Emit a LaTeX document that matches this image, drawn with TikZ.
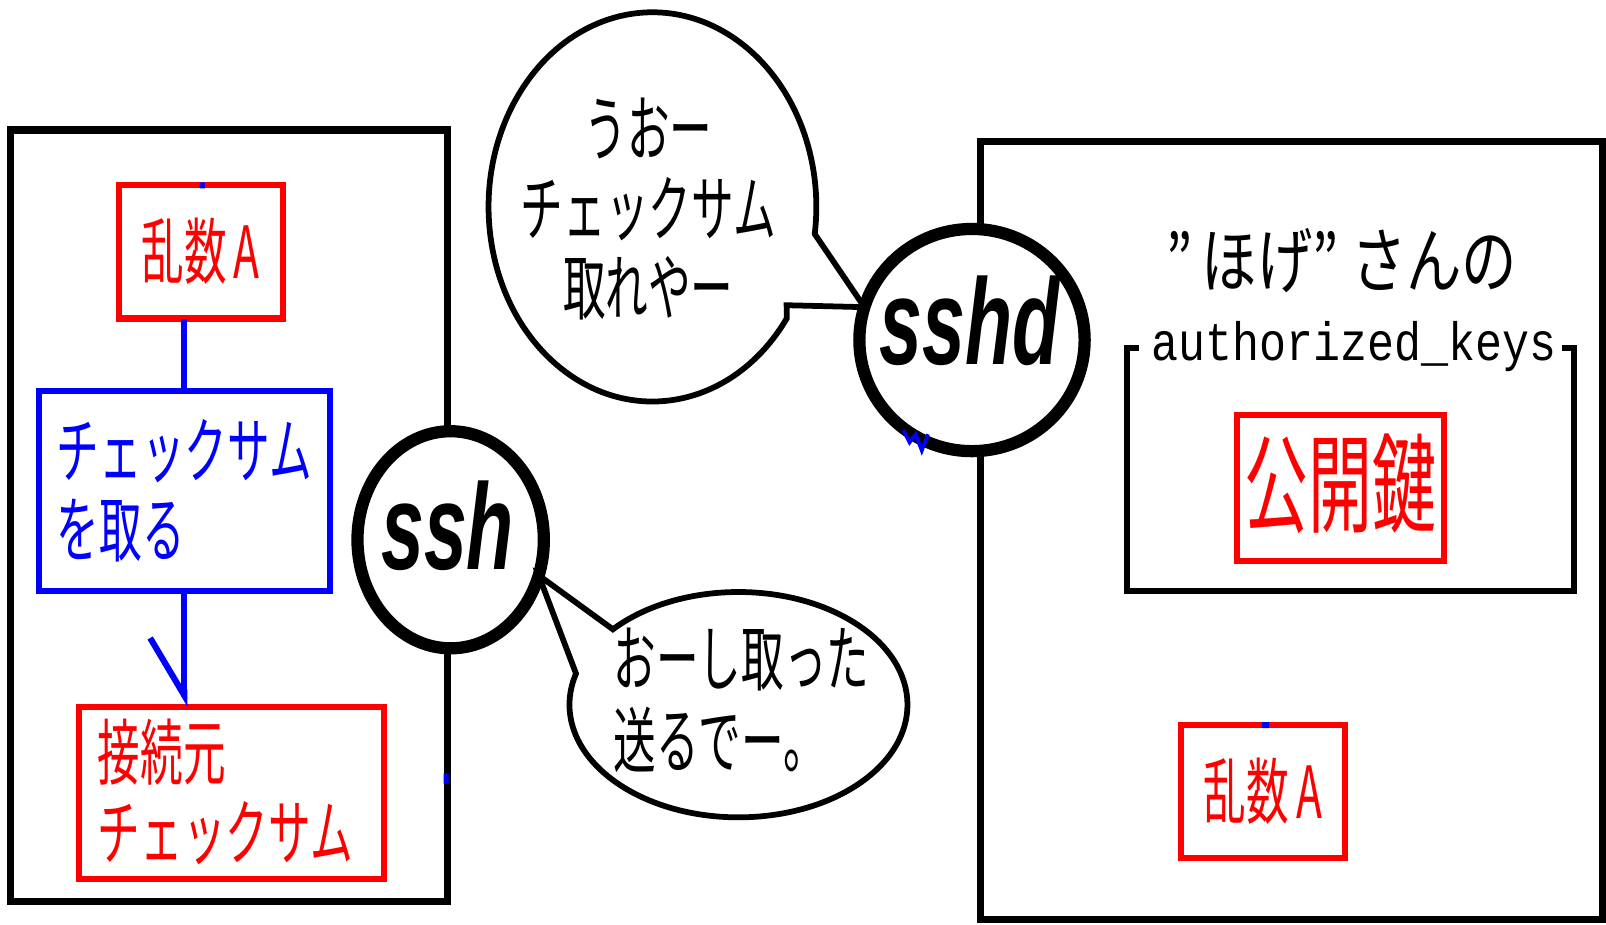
\documentclass[tikz,border=0pt]{standalone}
\usepackage{fontspec}
\usepackage{graphicx}
\newfontfamily\jpfont{Noto Sans CJK JP}
\newfontfamily\namefont{Liberation Sans}
\newfontfamily\keyfont{Liberation Mono}
\usetikzlibrary{arrows.meta,calc,fit,shapes.geometric}
\newcommand\jptext[2][l]{\scalebox{0.74}[1.25]{\begin{tabular}{@{}#1@{}}#2\end{tabular}}}
\begin{document}
\begin{tikzpicture}[x=0.02cm, y=-0.02cm, line join=miter, line cap=butt]
	\tikzset{every node/.style={inner sep=0pt, outer sep=0pt},
		jp/.style={font=\jpfont\fontsize{32}{32}\selectfont, yshift=-4pt},
		redbox/.style={draw=red, line width=3.4pt},
		bluebox/.style={draw=blue, line width=3.4pt},
		hostbox/.style={draw, line width=4pt},
		daemon/.style={draw, ellipse, line width=6.8pt, fill=white},
		daemonname/.style={font=\namefont\bfseries\itshape\fontsize{68}{68}\selectfont},
		bubble/.style={draw, line width=3.2pt},
		blueline/.style={draw=blue, line width=3.4pt}}
	\useasboundingbox (0,0) rectangle (1568,903);
	% client side
	\node[hostbox, fit={(10,127) (437,880)}] (client) {};
	\node[redbox, fit={(116,181) (276,311)}] (rndL) {};
	\node[jp, text=red] (rndLtxt) at (rndL.center) {\jptext{乱数\,A}};
	\node[bluebox, fit={(38,382) (322,577)}] (chk) {};
	\node[jp, text=blue] (chktxt) at (chk.center) {\jptext{チェックサム\\を取る}};
	\node[redbox, fit={(77,690) (375,858)}] (src) {};
	\node[jp, text=red] (srctxt) at ($(src.center)+(-6,0)$) {\jptext{接続元\\チェックサム}};
	\draw[blueline] (chk.north |- rndL.south) -- (chk.north);
	\draw[blueline, -{Straight Barb[right, length=32pt, width=38pt]}] (chk.south) -- (chk.south |- src.north);
	% server side
	\node[hostbox, fit={(957,138) (1565,898)}] (server) {};
	\node[fit={(1100,340) (1537,577)}] (keys) {};
	\draw[hostbox, line width=3.4pt] ($(keys.north west)+(12,0)$) -- (keys.north west) -- (keys.south west) -- (keys.south east) -- (keys.north east) -- ($(keys.north east)+(-12,0)$);
	\node[jp] (owner) at (1310,255) {\scalebox{1.3}[1]{\jptext{”\,ほげ”\ さんの}}};
	\node[font=\keyfont\fontsize{25}{25}\selectfont, anchor=base] (akeys) at (1322,352) {\scalebox{1}[1.2]{authorized\_keys}};
	\node[redbox, fit={(1208,405) (1410,548)}] (pub) {};
	\node[jp, font=\jpfont\fontsize{48}{48}\selectfont, text=red] (pubtxt) at (pub.center) {\jptext{公開鍵}};
	\node[redbox, fit={(1153,708) (1313,838)}] (rndR) {};
	\node[jp, text=red] (rndRtxt) at (rndR.center) {\jptext{乱数\,A}};
	% programs
	\node[daemon, minimum width=3.64cm, minimum height=4.24cm] (ssh) at (440,527) {};
	\node[daemonname] (sshname) at (437,513) {\scalebox{0.63}[1]{ssh}};
	\node[daemon, minimum width=4.4cm, minimum height=4.34cm] (sshd) at (949,332) {};
	\node[daemonname] (sshdname) at (947,313) {\scalebox{0.63}[1]{sshd}};
	% bubbles
	\coordinate (ubc) at (637,202);
	\coordinate (utail) at (768,298);
	\draw[bubble] ($(ubc)+(35:160 and 190)$) arc[start angle=35, end angle=368, x radius=160, y radius=190] -- (sshd.163) -- (utail) -- cycle;
	\node[jp] (utext) at (633,205) {\jptext[c]{うおー\\チェックサム\\取れやー}};
	\coordinate (lbc) at (721,688);
	\draw[bubble] ($(lbc)+(222:165 and 110)$) arc[start angle=222, end angle=556, x radius=165, y radius=110] -- (ssh.-22) -- cycle;
	\node[jp] (ltext) at (724,685) {\jptext{おーし取った\\送るでー。}};
	% leftover blue dots
	\fill[blue] (195,178) rectangle (200,184) (1232,705) rectangle (1239,711) (433,755) rectangle (438,765);
	\draw[blue, line width=2pt] (882,420) -- (888,432) -- (894,424) -- (900,440) -- (906,424);
\end{tikzpicture}
\end{document}
